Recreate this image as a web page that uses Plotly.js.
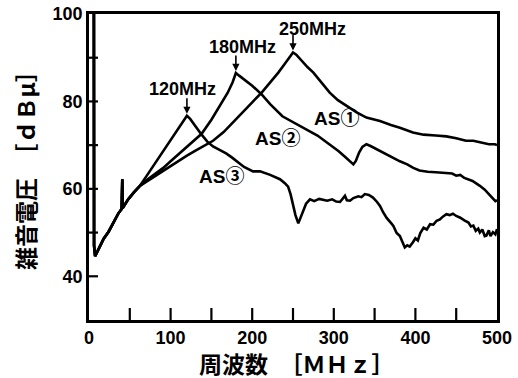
<!DOCTYPE html>
<html>
<head>
<meta charset="utf-8">
<script src="https://cdn.plot.ly/plotly-3.0.1.min.js"></script>
<style>
  html, body { margin: 0; padding: 0; background: #fff; }
  #chart { width: 518px; height: 378px; }
</style>
</head>
<body>
<div id="chart"></div>
<script>
// Low-frequency part shared by all three cables (MHz / dBμ)
const commonFreq  = [6, 6.2, 7.5, 10, 14, 18, 24, 30, 36, 40, 40.8, 41.3, 44, 48, 55, 62.5];
const commonLevel = [100, 47, 44.6, 45.6, 47.2, 48.6, 50.2, 52.3, 54.4, 55.4, 62.2, 55.6, 56.4, 57.6, 59.2, 60.7];

// AS① — resonance at 250 MHz
const as1Freq  = [70, 80, 91, 100, 111.5, 120, 130, 140, 152, 165, 176.5, 190, 200, 211.6, 222, 232, 240, 246, 250,
                  254, 260, 268, 275, 285, 295, 305, 316, 328, 340, 356.6, 370, 381, 397, 410, 425, 438, 450, 462,
                  471, 480, 490, 497.5, 500];
const as1Level = [61.6, 62.8, 64.3, 65.3, 66.6, 67.6, 68.7, 69.8, 71.0, 73.0, 75.3, 77.9, 79.8, 82.0, 84.3, 86.6, 88.6, 90.3, 91.2,
                  90.7, 89.4, 87.8, 86.6, 84.2, 82.0, 80.3, 79.0, 77.5, 76.3, 75.5, 74.6, 74.0, 72.9, 72.4, 72.2, 72.0, 71.6, 71.0,
                  71.0, 70.6, 70.2, 70.2, 70.0];

// AS② — resonance at 180 MHz
const as2Freq  = [70, 80, 91, 100, 111.5, 125, 138, 150, 160, 170, 176, 180, 184, 190, 200, 211.6, 222, 237, 250, 260,
                  270, 280, 290, 298, 306, 314, 320, 324, 327, 331, 335, 340, 345, 352, 360, 370, 381, 390, 397.4, 405,
                  415, 425, 438, 445, 450, 455, 460, 465, 470, 479, 485, 490, 495, 498, 500];
const as2Level = [61.9, 63.2, 64.8, 66.3, 68.2, 70.4, 72.6, 75.8, 78.8, 82.0, 84.4, 86.5, 85.9, 85.0, 83.6, 81.6, 79.4, 76.6, 75.2, 74.2,
                  73.2, 72.2, 70.8, 69.8, 68.6, 67.3, 66.2, 65.6, 66.4, 68.3, 69.6, 70.2, 69.8, 69.1, 68.4, 67.3, 66.3, 65.6, 64.8, 64.2,
                  63.9, 63.8, 63.7, 63.5, 63.0, 63.2, 62.5, 62.2, 61.8, 60.7, 59.8, 58.8, 57.8, 57.2, 57.4];

// AS③ — resonance at 120 MHz
const as3Freq  = [70, 80, 90, 100, 110, 116, 120, 124, 130, 138, 145, 152, 160, 168, 175, 182, 190, 201, 209.6, 222,
                  230, 234, 240, 244, 247, 250, 253, 256.5, 259, 262.6, 266, 270.8, 276, 282, 287, 292, 298, 303, 307.6, 311,
                  313.7, 316, 319.9, 324, 330, 334, 338, 343, 348, 353, 356.6, 360.6, 365, 370, 373, 377, 381, 384, 387, 390,
                  393, 397, 400, 403, 406, 410, 414, 418, 422, 426, 430, 434, 438, 442, 446, 450, 455, 460, 465, 468,
                  471, 474, 477, 479, 482, 485, 487, 490, 492, 495, 498, 500];
const as3Level = [62.8, 65.6, 68.3, 71.1, 73.9, 75.5, 76.7, 76.0, 74.4, 72.4, 70.8, 69.7, 68.9, 68.1, 67.2, 66.1, 65.0, 64.0, 64.0, 63.2,
                  62.6, 62.2, 61.3, 60.5, 58.8, 56.5, 54.0, 52.1, 53.2, 55.0, 56.6, 57.6, 57.2, 57.7, 57.5, 57.3, 57.6, 57.1, 57.0, 57.7,
                  58.4, 57.4, 57.3, 57.9, 58.3, 58.1, 58.8, 58.6, 58.0, 57.0, 56.1, 54.6, 53.3, 52.2, 51.5, 49.9, 49.2, 47.9, 46.6, 47.1,
                  46.8, 47.8, 48.7, 48.2, 49.9, 51.1, 50.7, 51.9, 51.8, 52.7, 53.0, 53.7, 54.2, 54.0, 54.3, 53.8, 53.4, 52.8, 52.3, 51.4,
                  51.6, 50.4, 50.9, 50.0, 50.7, 49.2, 49.3, 50.5, 49.2, 50.1, 49.6, 50.8];

// Resonance frequencies called out above the peaks
const peakFreq   = [120, 180, 250];
const peakLabels = ['120MHz', '180MHz', '250MHz'];
const seriesNames = ['AS①', 'AS②', 'AS③'];

// Axis ticks and titles
const xTickVals = [0, 50, 100, 150, 200, 250, 300, 350, 400, 450, 500];
const xTickText = ['0', '', '100', '', '200', '', '300', '', '400', '', '500'];
const yTickVals = [40, 50, 60, 70, 80, 90, 100];
const yTickText = ['40', '', '60', '', '80', '', '100'];
const xTitle = '周波数　［ＭＨｚ］';
const yTitle = '雑音電圧　［ｄＢμ］';

const xRange = [0, 500];
const yRange = [30, 100];
const plotW = 518 - 89 - 21;   // plot area width in px
const plotH = 378 - 14 - 58;   // plot area height in px

const series = [
  { name: seriesNames[0], f: commonFreq.concat(as1Freq), v: commonLevel.concat(as1Level) },
  { name: seriesNames[1], f: commonFreq.concat(as2Freq), v: commonLevel.concat(as2Level) },
  { name: seriesNames[2], f: commonFreq.concat(as3Freq), v: commonLevel.concat(as3Level) }
];

const traces = series.map(s => ({
  type: 'scatter', mode: 'lines', name: s.name,
  x: s.f, y: s.v,
  line: { color: '#000', width: 2.6 },
  hoverinfo: 'skip'
}));

// Inward tick marks on the bottom and left frame, one short segment each
const xTickLen = 12 * (yRange[1] - yRange[0]) / plotH;  // 12 px in dB units
const yTickLen = 9 * (xRange[1] - xRange[0]) / plotW;   // 9 px in MHz units
xTickVals.slice(1, -1).forEach(v => traces.push({
  type: 'scatter', mode: 'lines', x: [v, v], y: [yRange[0], yRange[0] + xTickLen],
  line: { color: '#000', width: 2.2 }, hoverinfo: 'skip', cliponaxis: false
}));
yTickVals.slice(0, -1).forEach(v => traces.push({
  type: 'scatter', mode: 'lines', x: [xRange[0], xRange[0] + yTickLen], y: [v, v],
  line: { color: '#000', width: 2.2 }, hoverinfo: 'skip', cliponaxis: false
}));

function levelAt(s, f) {
  return s.v[s.f.indexOf(f)];
}

const labelFamily = 'Liberation Sans, Arial, Noto Sans CJK JP, sans-serif';
const peakFont = { family: labelFamily, size: 18, color: '#000', weight: 700 };
const asFont   = { family: labelFamily, size: 19, color: '#000', weight: 700 };
const tickFont = { family: 'Liberation Sans, Arial, sans-serif', size: 18, color: '#000', weight: 700 };
const titleFont = { family: 'Noto Sans CJK JP, sans-serif', size: 23, color: '#000', weight: 700 };

// peaks: AS③ at 120, AS② at 180, AS① at 250
const peakSeries = [series[2], series[1], series[0]];
const peakLabelPos = [[114, 82.8], [188.7, 92.4], [274.5, 96.5]];

const annotations = [];
peakFreq.forEach((f, i) => {
  const lvl = levelAt(peakSeries[i], f);
  annotations.push({
    x: f, y: lvl, xref: 'x', yref: 'y', text: '',
    showarrow: true, ax: 0, ay: -19, standoff: 2,
    arrowhead: 2, arrowsize: 0.9, arrowwidth: 1.6, arrowcolor: '#000'
  });
  annotations.push({
    x: peakLabelPos[i][0], y: peakLabelPos[i][1], xref: 'x', yref: 'y',
    text: peakLabels[i], showarrow: false, font: peakFont
  });
});

const seriesLabelPos = [[302.7, 76.2], [231.6, 71.6], [161.8, 62.9]];
seriesNames.forEach((n, i) => {
  annotations.push({
    x: seriesLabelPos[i][0], y: seriesLabelPos[i][1], xref: 'x', yref: 'y',
    text: n, showarrow: false, font: asFont
  });
});

// Axis titles
annotations.push({
  xref: 'paper', yref: 'paper', x: 0.5, y: 0, xanchor: 'center', yanchor: 'middle',
  xshift: 4, yshift: -43, text: xTitle, showarrow: false, font: titleFont
});
annotations.push({
  xref: 'paper', yref: 'paper', x: 0, y: 0.5, xanchor: 'center', yanchor: 'middle',
  xshift: -64, yshift: 2, textangle: -90, text: yTitle, showarrow: false, font: titleFont
});

const layout = {
  width: 518, height: 378,
  margin: { l: 89, r: 21, t: 14, b: 58 },
  paper_bgcolor: '#fff', plot_bgcolor: '#fff',
  showlegend: false,
  xaxis: {
    range: xRange, showgrid: false, zeroline: false,
    showline: true, linecolor: '#000', linewidth: 2.5, mirror: true,
    ticks: '', tickvals: xTickVals, ticktext: xTickText,
    tickfont: tickFont
  },
  yaxis: {
    range: yRange, showgrid: false, zeroline: false,
    showline: true, linecolor: '#000', linewidth: 2.5, mirror: true,
    ticks: '', tickvals: yTickVals, ticktext: yTickText,
    tickfont: tickFont
  },
  annotations: annotations
};

Plotly.newPlot('chart', traces, layout, { displayModeBar: false });
</script>
</body>
</html>
